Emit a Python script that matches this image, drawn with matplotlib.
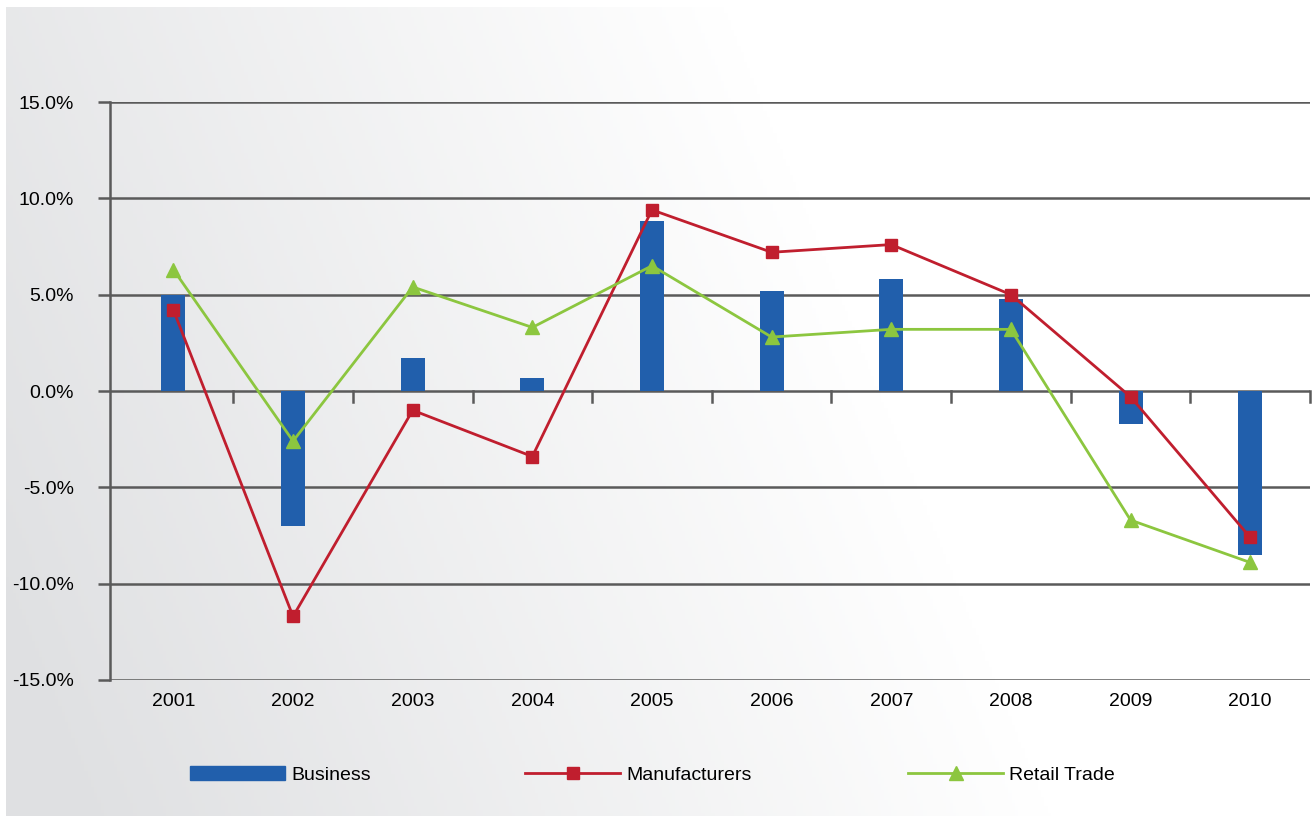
import numpy as np
import matplotlib
matplotlib.use("Agg")
import matplotlib.pyplot as plt
from matplotlib.lines import Line2D
from matplotlib.patches import Patch

years = ["2001", "2002", "2003", "2004", "2005", "2006", "2007", "2008", "2009", "2010"]
business = [5.0, -7.0, 1.7, 0.7, 8.8, 5.2, 5.8, 4.8, -1.7, -8.5]
manufacturers = [4.2, -11.7, -1.0, -3.4, 9.4, 7.2, 7.6, 5.0, -0.3, -7.6]
retail_trade = [6.3, -2.6, 5.4, 3.3, 6.5, 2.8, 3.2, 3.2, -6.7, -8.9]
y_ticks = [-15, -10, -5, 0, 5, 10, 15]

BLUE = "#215fac"
RED = "#c01e2e"
GREEN = "#8cc63f"
GRID = "#5a5a5a"
FS = 14

plt.rcParams["font.family"] = ["Liberation Sans", "DejaVu Sans"]

W, H = 1312, 817
fig = plt.figure(figsize=(W / 100, H / 100), dpi=100)

# soft diagonal grey-to-white panel behind the chart
bg = fig.add_axes([6 / W, 1 / H, 1 - 6 / W, 1 - 8 / H], zorder=-10)
xx, yy = np.meshgrid(np.linspace(0, 1, 400), np.linspace(0, 1, 250))
t = np.clip((xx * 1.0 + (1 - yy) * 0.25 - 0.05) / 0.75, 0, 1)
c0 = np.array([0xdf, 0xe0, 0xe2]) / 255
c1 = np.array([1.0, 1.0, 1.0])
img = c0[None, None, :] * (1 - t[..., None]) + c1[None, None, :] * t[..., None]
bg.imshow(img, aspect="auto", extent=[0, 1, 0, 1], origin="upper")
bg.axis("off")

ax = fig.add_axes([110 / W, 1 - 680 / H, 1200 / W, 578 / H])
ax.set_facecolor("none")
x = np.arange(len(years))

ax.set_xlim(-0.53, 9.5)
ax.set_ylim(-15, 15)

for v in y_ticks:
    ax.axhline(v, color=GRID, lw=1.8, zorder=1)

ax.bar(x, business, width=0.2, color=BLUE, zorder=2)
ax.plot(x, manufacturers, color=RED, lw=2.0, marker="s", ms=8.5, zorder=3)
ax.plot(x, retail_trade, color=GREEN, lw=2.0, marker="^", ms=10, zorder=4)

# category separators hanging below the zero line
for b in x + 0.5:
    ax.plot([b, b], [0, -0.55], color=GRID, lw=1.8, zorder=1, clip_on=False)

for s in ["top", "right", "bottom"]:
    ax.spines[s].set_visible(False)
ax.spines["left"].set_color(GRID)
ax.spines["left"].set_linewidth(1.8)

ax.set_yticks(y_ticks)
ax.set_yticklabels([f"{v:.1f}%" for v in y_ticks], fontsize=FS)
ax.tick_params(axis="y", length=9, width=1.8, color=GRID, pad=17)
ax.set_xticks(x)
ax.set_xticklabels(years, fontsize=FS)
ax.tick_params(axis="x", length=0, pad=9)

handles = [
    Patch(facecolor=BLUE, edgecolor=BLUE),
    Line2D([], [], color=RED, lw=2.0, marker="s", ms=8.5),
    Line2D([], [], color=GREEN, lw=2.0, marker="^", ms=10),
]
labels = ["Business", "Manufacturers", "Retail Trade"]
positions = [190, 525, 908]
for h, lab, px in zip(handles, labels, positions):
    fig.legend([h], [lab], loc="center left",
               bbox_to_anchor=(px / W, 1 - 775 / H),
               frameon=False, fontsize=FS, handlelength=4.9,
               handleheight=0.75, handletextpad=0.3, borderpad=0,
               borderaxespad=0)

fig.savefig("out.png", dpi=100)
